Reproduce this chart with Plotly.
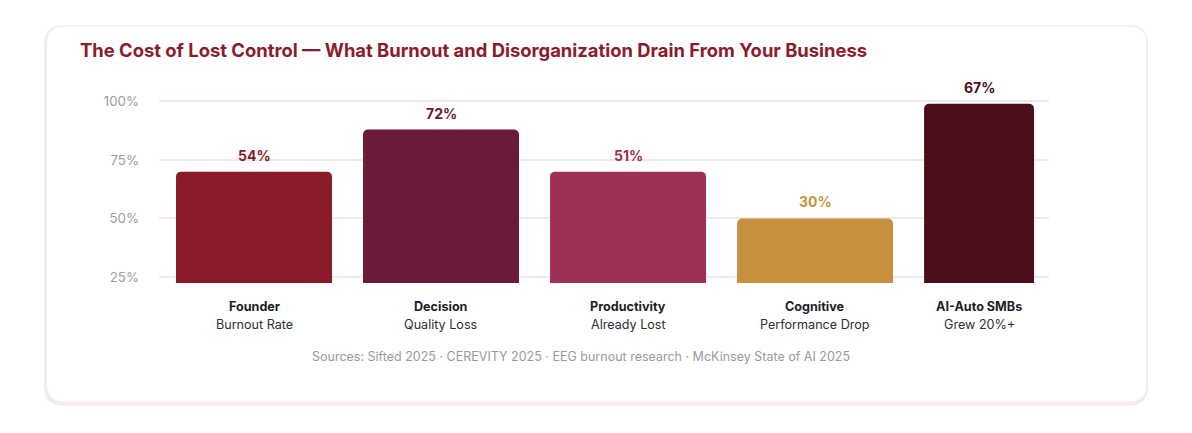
import plotly.graph_objects as go

# chart values
categories = ["Founder", "Decision", "Productivity", "Cognitive", "AI-Auto SMBs"]
subtitles = ["Burnout Rate", "Quality Loss", "Already Lost", "Performance Drop", "Grew 20%+"]
stat_labels = ["54%", "72%", "51%", "30%", "67%"]
bar_heights = [70, 88, 70, 50, 99]
tick_vals = [25, 50, 75, 100]
tick_text = ["25%", "50%", "75%", "100%"]

colors = ["#8B1B2B", "#6C1A39", "#9E2F55", "#C8913F", "#4B0F1B"]
bar_widths = [0.834, 0.834, 0.834, 0.834, 0.588]
bar_offset = -0.417

# page body adds an 8px margin, so figure coords = screen coords - 8
OFF = 8
W, H = 1192, 433
ML, MR, MT, MB = 159 - OFF, W - (1049 - OFF), 80 - OFF, H - (283 - OFF)
PW, PH = W - ML - MR, H - MT - MB


def px_x(x):
    return (x - OFF - ML) / PW


def px_y(y):
    return (H - MB - (y - OFF)) / PH


def round_rect(x0, y0, x1, y1, r):
    # rounded rectangle path in paper coords from a screen pixel box
    rx, ry = r / PW, r / PH
    a, b, c, d = px_x(x0), px_y(y1), px_x(x1), px_y(y0)
    return (f"M {a + rx},{b} L {c - rx},{b} Q {c},{b} {c},{b + ry} "
            f"L {c},{d - ry} Q {c},{d} {c - rx},{d} L {a + rx},{d} "
            f"Q {a},{d} {a},{d - ry} L {a},{b + ry} Q {a},{b} {a + rx},{b} Z")


fig = go.Figure()
fig.add_trace(go.Bar(
    x=categories, y=bar_heights,
    width=bar_widths, offset=bar_offset,
    marker=dict(color=colors, cornerradius=5, line=dict(width=0)),
    hoverinfo="skip",
))

annotations = []
for i, cat in enumerate(categories):
    cx = i + bar_offset + bar_widths[i] / 2
    annotations.append(dict(
        x=cx, y=bar_heights[i], xref="x", yref="y", text=f"<b>{stat_labels[i]}</b>",
        showarrow=False, yanchor="bottom", yshift=6,
        font=dict(family="Inter", size=14, color=colors[i]),
    ))
    annotations.append(dict(
        x=cx, y=0, xref="x", yref="paper", text=f"<b>{cat}</b>",
        showarrow=False, yanchor="middle", yshift=-23.5,
        font=dict(family="Inter", size=12.6, color="#1e1e28"),
    ))
    annotations.append(dict(
        x=cx, y=0, xref="x", yref="paper", text=subtitles[i],
        showarrow=False, yanchor="middle", yshift=-41,
        font=dict(family="Inter", size=12.6, color="#2e2e36"),
    ))

annotations.append(dict(
    x=px_x(581), y=px_y(356), xref="paper", yref="paper",
    text="Sources: Sifted 2025 · CEREVITY 2025 · EEG burnout research · McKinsey State of AI 2025",
    showarrow=False, xanchor="center", yanchor="middle",
    font=dict(family="Inter", size=12.5, color="#a0979a"),
))

shapes = [
    dict(type="path", xref="paper", yref="paper", layer="below",
         path=round_rect(44, 25, 1148, 406, 20), fillcolor="#f3ece9", line=dict(width=0)),
    dict(type="path", xref="paper", yref="paper", layer="below",
         path=round_rect(47, 26.5, 1146.5, 401.5, 18), fillcolor="#ffffff", line=dict(width=0)),
]

fig.update_layout(
    width=W, height=H,
    margin=dict(l=ML, r=MR, t=MT, b=MB),
    paper_bgcolor="#ffffff", plot_bgcolor="rgba(0,0,0,0)",
    showlegend=False,
    title=dict(
        text="<b>The Cost of Lost Control — What Burnout and Disorganization Drain From Your Business</b>",
        x=(80 - OFF) / W, xanchor="left", xref="container",
        y=1 - (51 - OFF) / H, yanchor="middle", yref="container",
        font=dict(family="Inter", size=18.4, color="#8a1c2c"),
    ),
    xaxis=dict(
        type="category", range=[-0.508, 4.251],
        showticklabels=False, showgrid=False, zeroline=False, showline=False, ticks="",
    ),
    yaxis=dict(
        range=[22.44, 109.15], tickvals=tick_vals, ticktext=tick_text,
        showgrid=True, gridcolor="#f2e8e8", gridwidth=1.5,
        zeroline=False, showline=False, ticks="", ticklabelstandoff=19,
        tickfont=dict(family="Inter", size=13.3, color="#a39a9a"),
    ),
    annotations=annotations,
    shapes=shapes,
    font=dict(family="Inter"),
)

fig.write_html("out.html")
